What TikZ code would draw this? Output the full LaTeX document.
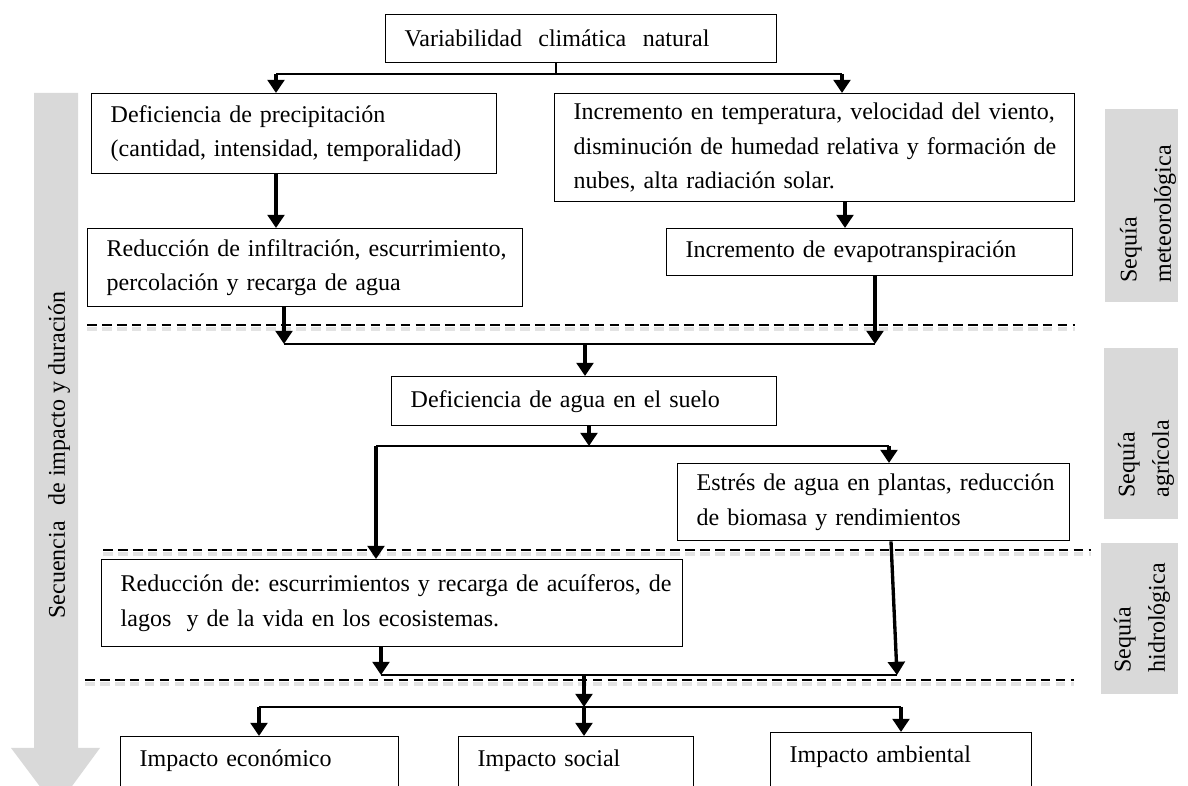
\documentclass[tikz,border=0pt]{standalone}
\usepackage{fontspec}
\setmainfont{Liberation Serif}
\usepackage{tikz}
\usetikzlibrary{arrows.meta}
\definecolor{bandgray}{HTML}{D9D9D9}
\frenchspacing

\begin{document}
\begin{tikzpicture}[x=0.02cm, y=-0.02cm,
	font=\fontsize{13.66}{19.5}\selectfont,
	box/.style={draw, line width=0.8pt, anchor=north west, align=left, inner xsep=0.38cm, inner ysep=1pt},
	impact/.style={box, text height=0.4cm, text depth=1.2cm, inner ysep=0.2cm},
	band/.style={rotate=90, anchor=west, align=left, inner sep=0pt},
	conn/.style={line width=1.2pt},
	arr/.style={line width=1.9pt, -{Triangle[length=7.5pt, width=9.5pt]}},
	divider/.style={dash pattern=on 5.5pt off 3pt, line width=0.8pt},
	divshade/.style={gray!22, dash pattern=on 5.5pt off 3pt, line width=2.5pt}]
	\clip (0,0) rectangle (1188,786);
	\fill[bandgray] (34,93) -- (78,93) -- (78,748) -- (100,748) -- (56,808) -- (11,748) -- (34,748) -- cycle;
	\node[rotate=90] (seq) at (59,455) {Secuencia\hspace{0.4em} de impacto y duración};
	\fill[bandgray] (1105,109) rectangle (1178,302);
	\fill[bandgray] (1104,348) rectangle (1178,519);
	\fill[bandgray] (1101,543) rectangle (1178,694);
	\node[band] (meteo) at (1148,283) {Sequía\\meteorológica};
	\node[band] (agri) at (1146,498) {Sequía\\agrícola};
	\node[band] (hidro) at (1142,673) {Sequía\\hidrológica};
	\draw[divshade] (87,329) -- (1075,329);
	\draw[divider] (87,325) -- (1075,325);
	\draw[divshade] (103,554) -- (1091,554);
	\draw[divider] (103,550) -- (1091,550);
	\draw[divshade] (85,684) -- (1074,684);
	\draw[divider] (85,680) -- (1074,680);
	\node[box, text width=7.06cm, minimum height=0.96cm] (var) at (385,14) {Variabilidad\hspace{0.35em} climática\hspace{0.35em} natural};
	\node[box, text width=7.34cm, minimum height=1.60cm] (prec) at (91,93) {\mbox{Deficiencia de precipitación}\\\mbox{(cantidad, intensidad, temporalidad)}};
	\node[box, text width=9.64cm, minimum height=2.16cm] (temp) at (554,93) {\mbox{Incremento en temperatura, velocidad del viento,}\\\mbox{disminución de humedad relativa y formación de}\\\mbox{nubes, alta radiación solar.}};
	\node[box, text width=7.94cm, minimum height=1.56cm] (infil) at (87,228) {\mbox{Reducción de infiltración, escurrimiento,}\\\mbox{percolación y recarga de agua}};
	\node[box, text width=7.36cm, minimum height=0.94cm] (evap) at (666,228) {Incremento de evapotranspiración};
	\node[box, text width=6.94cm, minimum height=0.98cm] (agua) at (391,376) {Deficiencia de agua en el suelo};
	\node[box, text width=7.08cm, minimum height=1.54cm] (estres) at (677,463) {\mbox{Estrés de agua en plantas, reducción}\\\mbox{de biomasa y rendimientos}};
	\node[box, text width=10.86cm, minimum height=1.74cm] (reduc) at (101,559) {\mbox{Reducción de: escurrimientos y recarga de acuíferos, de}\\\mbox{lagos\hspace{0.3em} y de la vida en los ecosistemas.}};
	\node[impact, text width=4.80cm] (econ) at (120,736) {Impacto económico};
	\node[impact, text width=3.94cm] (social) at (458,736) {Impacto social};
	\node[impact, text width=4.46cm] (amb) at (770,732) {Impacto ambiental};
	\coordinate (jT) at (556,74);
	\coordinate (jL) at (276,74);
	\coordinate (jR) at (842,74);
	\draw[conn] (var.south -| jT) -- (jT);
	\draw[conn] (jL) -- (jR);
	\draw[arr] (jL) -- (jL |- prec.north);
	\draw[arr] (jR) -- (jR |- temp.north);
	\draw[arr] (prec.south -| jL) -- (infil.north -| jL);
	\draw[arr] (temp.south -| 845,0) -- (evap.north -| 845,0);
	\coordinate (mL) at (284,344);
	\coordinate (mC) at (585,344);
	\coordinate (mR) at (875,344);
	\draw[arr] (infil.south -| mL) -- (mL);
	\draw[arr] (evap.south -| mR) -- (mR);
	\draw[conn] (mL) -- (mR);
	\draw[arr] (mC) -- (mC |- agua.north);
	\coordinate (sL) at (376,446);
	\coordinate (sC) at (589,446);
	\coordinate (sR) at (889,446);
	\draw[arr] (agua.south -| sC) -- (sC);
	\draw[conn] (sL) -- (sR);
	\draw[arr] (sL) -- (sL |- reduc.north);
	\draw[arr] (sR) -- (sR |- estres.north);
	\coordinate (nL) at (381,675);
	\coordinate (nC) at (584,675);
	\coordinate (nR) at (897,675);
	\draw[arr] (reduc.south -| nL) -- (nL);
	\draw[arr] (estres.south -| 891,0) -- (nR);
	\draw[conn] (nL) -- (nR);
	\coordinate (iL) at (259,707);
	\coordinate (iC) at (584,707);
	\coordinate (iR) at (901,707);
	\draw[arr] (nC) -- (iC);
	\draw[conn] (iL) -- (iR);
	\draw[arr] (iL) -- (iL |- econ.north);
	\draw[arr] (iC) -- (iC |- social.north);
	\draw[arr] (iR) -- (iR |- amb.north);
\end{tikzpicture}
\end{document}
